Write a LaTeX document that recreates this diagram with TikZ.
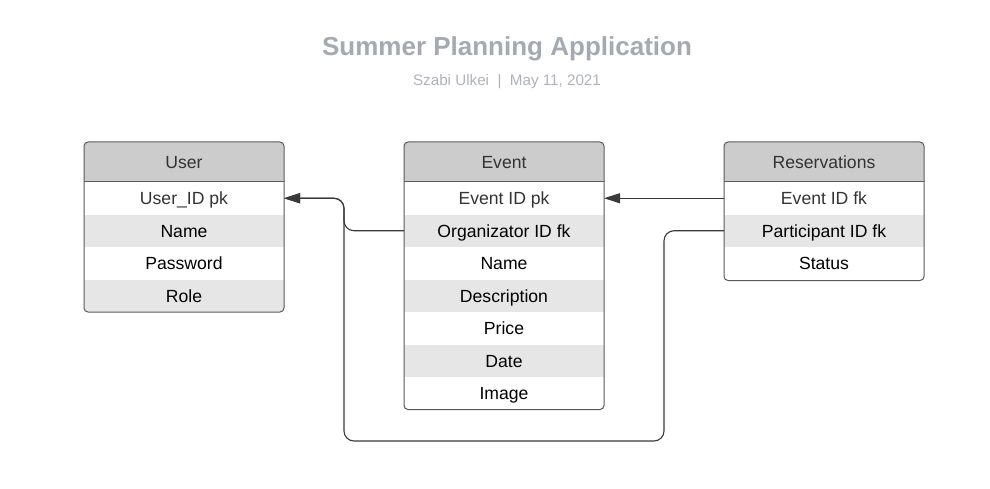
\documentclass[tikz,border=0pt]{standalone}
\usepackage{fontspec}
\setmainfont{Liberation Sans}
\usetikzlibrary{arrows.meta}
\definecolor{hdr}{HTML}{CCCCCC}
\definecolor{alt}{HTML}{E6E6E6}
\definecolor{bord}{HTML}{5A5A5A}
\definecolor{ttl}{HTML}{A4A9B2}
\definecolor{sub}{HTML}{AEB3BB}
\definecolor{dark}{HTML}{333333}
\definecolor{conncol}{HTML}{3A3A3A}
\begin{document}
\begin{tikzpicture}[x=1pt,y=-1pt,
  tcell/.style={anchor=north west, minimum width=200pt, minimum height=32.5pt, inner sep=0pt, outer sep=0pt, text height=12.6pt, text depth=0pt, font=\fontsize{17.6}{20}\selectfont},
  hdrrow/.style={tcell, fill=hdr, minimum height=40pt, text=dark},
  whiterow/.style={tcell, fill=white},
  grayrow/.style={tcell, fill=alt},
  tblframe/.style={draw=bord, line width=1pt, rounded corners=4pt},
  conn/.style={draw=conncol, line width=1.1pt, rounded corners=10pt, -{Triangle[length=16pt,width=10pt]}}
]
\useasboundingbox (0,0) rectangle (990,489);
\fill[white] (0,0) rectangle (990,489);

\node[text=ttl, font=\fontsize{26}{30}\selectfont\bfseries] (title) at (507,48.5) {Summer Planning Application};
\node[text=sub, font=\fontsize{15.2}{18}\selectfont] (subtitle) at (507,82) {Szabi Ulkei\ \ |\ \ May 11, 2021};

% User table
\begin{scope}
\clip[rounded corners=4pt] (84,142) rectangle (284,312);
\node[hdrrow] (user) at (84,142) {User};
\node[whiterow, text=dark] (uid) at (84,182) {User\_ID pk};
\node[grayrow] (uname) at (84,214.5) {Name};
\node[whiterow] (upass) at (84,247) {Password};
\node[grayrow] (urole) at (84,279.5) {Role};
\end{scope}
\draw[tblframe] (84,142) rectangle (284,312);
\draw[bord, line width=1pt] (user.south west) -- (user.south east);

% Event table
\begin{scope}
\clip[rounded corners=4pt] (404,142) rectangle (604,409.5);
\node[hdrrow] (event) at (404,142) {Event};
\node[whiterow, text=dark] (eid) at (404,182) {Event ID pk};
\node[grayrow] (eorg) at (404,214.5) {Organizator ID fk};
\node[whiterow] (ename) at (404,247) {Name};
\node[grayrow] (edesc) at (404,279.5) {Description};
\node[whiterow] (eprice) at (404,312) {Price};
\node[grayrow] (edate) at (404,344.5) {Date};
\node[whiterow] (eimg) at (404,377) {Image};
\end{scope}
\draw[tblframe] (404,142) rectangle (604,409.5);
\draw[bord, line width=1pt] (event.south west) -- (event.south east);

% Reservations table
\begin{scope}
\clip[rounded corners=4pt] (724,142) rectangle (924,280.5);
\node[hdrrow] (res) at (724,142) {Reservations};
\node[whiterow, text=dark] (reid) at (724,182) {Event ID fk};
\node[grayrow] (rpart) at (724,214.5) {Participant ID fk};
\node[whiterow] (rstat) at (724,247) {Status};
\end{scope}
\draw[tblframe] (724,142) rectangle (924,280.5);
\draw[bord, line width=1pt] (res.south west) -- (res.south east);

% connectors
\coordinate (j1) at (344,441);
\coordinate (j2) at (664,441);
\draw[conn] (eorg.west) -- (eorg.west -| j1) -- (j1 |- uid.east) -- (uid.east);
\draw[conn] (rpart.west) -- (rpart.west -| j2) -- (j2) -- (j1) -- (j1 |- uid.east) -- (uid.east);
\draw[conn] (reid.west) -- (eid.east);
\end{tikzpicture}
\end{document}
